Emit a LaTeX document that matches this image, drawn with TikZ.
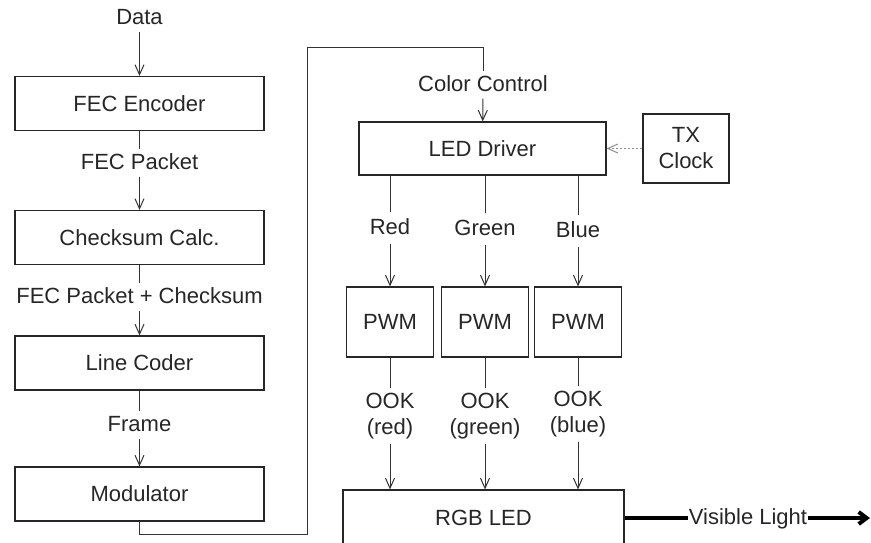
\documentclass[tikz,border=0pt]{standalone}
\usepackage{fontspec}
\setmainfont{Liberation Sans}
\usetikzlibrary{arrows.meta}
\tikzset{
  txt/.style={font=\fontsize{22}{26}\selectfont,text=black!85},
  blk/.style={txt,draw=black!85,line width=1.2pt,rectangle,inner sep=0pt},
  lbl/.style={txt,inner sep=4pt,text height=16pt,text depth=3pt},
  two/.style={txt,inner sep=5pt,align=center},
  wire/.style={black!80,line width=1pt},
  arr/.style={wire,-{Straight Barb[length=10pt,width=9pt]}},
}
\begin{document}
\begin{tikzpicture}[x=1pt,y=-1pt]
  \clip (0,0) rectangle (871,542);
  \node[blk,minimum width=249pt,minimum height=54pt] (enc) at (139.5,103.5) {FEC Encoder};
  \node[blk,minimum width=249pt,minimum height=54pt] (chk) at (139.5,237.5) {Checksum Calc.};
  \node[blk,minimum width=249pt,minimum height=54pt] (lc) at (139.5,363) {Line Coder};
  \node[blk,minimum width=249pt,minimum height=54pt] (mod) at (139.5,494) {Modulator};
  \node[blk,minimum width=247pt,minimum height=53pt] (drv) at (482.5,148.5) {LED Driver};
  \node[blk,minimum width=86pt,minimum height=69pt,align=center] (tx) at (686,148.5) {TX\\Clock};
  \node[blk,minimum width=87pt,minimum height=70pt] (pwm1) at (390,322) {PWM};
  \node[blk,minimum width=87pt,minimum height=70pt] (pwm2) at (485,322) {PWM};
  \node[blk,minimum width=87pt,minimum height=70pt] (pwm3) at (578,322) {PWM};
  \node[blk,minimum width=281pt,minimum height=56pt] (rgb) at (483.5,518) {RGB LED};
  \node[lbl] (data) at (139.5,18) {Data};
  \node[lbl] (pkt) at (139.5,163) {FEC Packet};
  \node[lbl] (pktc) at (139.5,297) {FEC Packet + Checksum};
  \node[lbl] (frame) at (139.5,425) {Frame};
  \node[lbl] (cc) at (483,85) {Color Control};
  \node[lbl,inner sep=6pt] (red) at (390,228) {Red};
  \node[lbl,inner sep=6pt] (green) at (485,229) {Green};
  \node[lbl,inner sep=6pt] (blue) at (578,231) {Blue};
  \node[two] (ook1) at (390,416) {OOK\\(red)};
  \node[two] (ook2) at (485,416) {OOK\\(green)};
  \node[two] (ook3) at (578,414) {OOK\\(blue)};
  \node[lbl,inner sep=1pt] (vis) at (748,518) {Visible Light};
  \coordinate (low) at (307,534);
  \coordinate (top) at (483,47);
  \coordinate (vend) at (870,518);
  \draw[arr] (data) -- (enc);
  \draw[wire] (enc) -- (pkt);
  \draw[arr] (pkt) -- (chk);
  \draw[wire] (chk) -- (pktc);
  \draw[arr] (pktc) -- (lc);
  \draw[wire] (lc) -- (frame);
  \draw[arr] (frame) -- (mod);
  \draw[wire] (mod.south) |- (low) |- (top) -- (cc);
  \draw[arr] (cc) -- (drv);
  \draw[arr,black!45,dash pattern=on 2pt off 2pt] (tx) -- (drv);
  \draw[wire] (drv.south -| red) -- (red);
  \draw[wire] (drv.south -| green) -- (green);
  \draw[wire] (drv.south -| blue) -- (blue);
  \draw[arr] (red) -- (pwm1);
  \draw[arr] (green) -- (pwm2);
  \draw[arr] (blue) -- (pwm3);
  \draw[wire] (pwm1) -- (ook1);
  \draw[wire] (pwm2) -- (ook2);
  \draw[wire] (pwm3) -- (ook3);
  \draw[arr] (ook1) -- (rgb.north -| ook1);
  \draw[arr] (ook2) -- (rgb.north -| ook2);
  \draw[arr] (ook3) -- (rgb.north -| ook3);
  \draw[black,line width=4pt] (rgb) -- (vis);
  \draw[black,line width=4pt,-{Straight Barb[length=8pt,width=12pt]}] (vis) -- (vend);
\end{tikzpicture}
\end{document}
